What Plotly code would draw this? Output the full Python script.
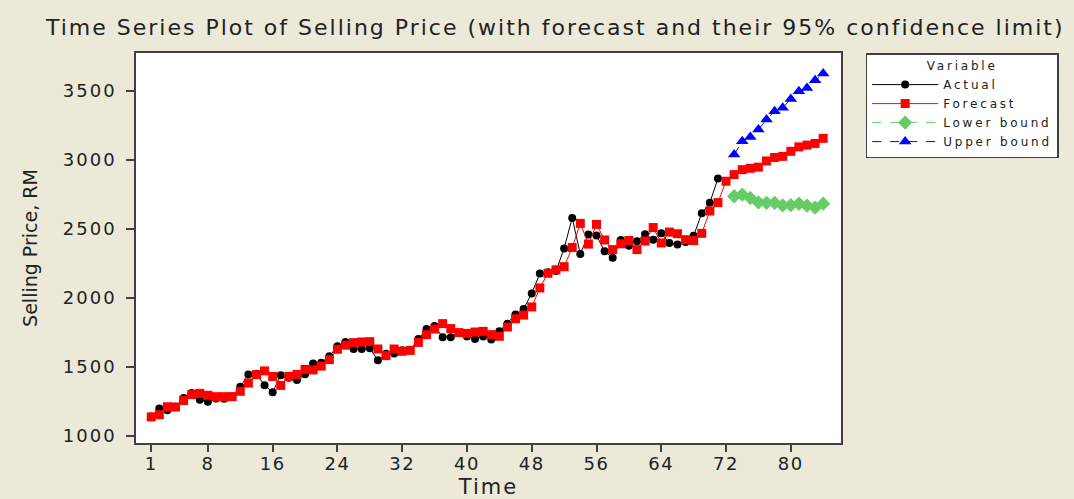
import plotly.graph_objects as go

# ---- data ----
time_actual = list(range(1, 72))
actual = [1140, 1197, 1185, 1210, 1273, 1310, 1261, 1247, 1270, 1268,
          1285, 1355, 1443, 1450, 1366, 1316, 1438, 1420, 1404, 1445,
          1523, 1530, 1576, 1648, 1680, 1629, 1629, 1634, 1547, 1595,
          1597, 1620, 1620, 1702, 1774, 1795, 1715, 1715, 1745, 1720,
          1702, 1720, 1697, 1757, 1812, 1879, 1919, 2032, 2176, 2185,
          2195, 2358, 2580, 2318, 2459, 2452, 2338, 2290, 2420, 2378,
          2410, 2462, 2422, 2468, 2398, 2386, 2405, 2451, 2613, 2690,
          2866]

time_forecast = list(range(1, 85))
forecast = [1136, 1152, 1210, 1208, 1255, 1298, 1307, 1293, 1283, 1283,
            1283, 1322, 1382, 1443, 1470, 1430, 1365, 1430, 1445, 1481,
            1477, 1505, 1552, 1627, 1657, 1675, 1680, 1682, 1629, 1581,
            1629, 1612, 1619, 1677, 1733, 1774, 1813, 1777, 1748, 1742,
            1752, 1757, 1733, 1721, 1788, 1848, 1875, 1934, 2072, 2178,
            2203, 2226, 2365, 2540, 2390, 2533, 2420, 2350, 2392, 2416,
            2350, 2412, 2510, 2398, 2477, 2465, 2422, 2415, 2468, 2630,
            2691, 2846, 2894, 2930, 2940, 2948, 2993, 3018, 3026, 3063,
            3095, 3108, 3120, 3157]

time_bounds = list(range(73, 85))
lower = [2737, 2749, 2725, 2692, 2689, 2689, 2670, 2672, 2683, 2669, 2655, 2683]
upper = [3039, 3136, 3167, 3221, 3293, 3353, 3378, 3443, 3499, 3523, 3578, 3627]

x_ticks = [1, 8, 16, 24, 32, 40, 48, 56, 64, 72, 80]
y_ticks = [1000, 1500, 2000, 2500, 3000, 3500]

FONT = "DejaVu Sans"
AXIS = "#404040"
TXT = "#222222"


def wide(s, sp):
    return '<span style="letter-spacing:%spx">%s</span>' % (sp, s)


fig = go.Figure()
fig.add_trace(go.Scatter(x=time_actual, y=actual, name=wide("Actual", 2.8), mode="lines+markers",
                         line=dict(color="black", width=1),
                         marker=dict(symbol="circle", size=8, color="black")))
fig.add_trace(go.Scatter(x=time_forecast, y=forecast, name=wide("Forecast", 2.8), mode="lines+markers",
                         line=dict(color="#FF0000", width=1),
                         marker=dict(symbol="square", size=9, color="#FF0000")))
fig.add_trace(go.Scatter(x=time_bounds, y=lower, name=wide("Lower bound", 2.8), mode="lines+markers",
                         line=dict(color="#66CC66", width=1, dash="dash"),
                         marker=dict(symbol="diamond", size=11, color="#66CC66")))
fig.add_trace(go.Scatter(x=time_bounds, y=upper, name=wide("Upper bound", 2.8), mode="lines+markers",
                         line=dict(color="#0000FF", width=1, dash="dash"),
                         marker=dict(symbol="triangle-up", size=11, color="#0000FF")))

fig.update_layout(
    width=1074, height=499,
    margin=dict(l=136, r=233, t=53, b=56),
    paper_bgcolor="#ECE9D8", plot_bgcolor="white",
    font=dict(family=FONT, color=TXT),
    title=dict(text=wide("Time Series Plot of Selling Price (with forecast and their 95% confidence limit)", 2),
               x=0.517, xref="container", xanchor="center",
               y=1 - 27 / 499, yref="container", yanchor="middle",
               font=dict(size=22, family=FONT, color=TXT)),
    xaxis=dict(range=[-0.88, 86.2], tickvals=x_ticks, automargin=False,
               ticktext=[wide(str(v), 1.5) for v in x_ticks],
               ticks="outside", ticklen=7, ticklabelstandoff=-3,
               tickcolor=AXIS, tickwidth=1.5, showline=True, mirror=True, linecolor=AXIS,
               linewidth=1.5, showgrid=False, zeroline=False,
               tickfont=dict(size=18, family=FONT, color=TXT),
               title=dict(text=wide("Time", 2), font=dict(size=21, family=FONT, color=TXT), standoff=11)),
    yaxis=dict(range=[947, 3776], tickvals=y_ticks, automargin=False,
               ticktext=[wide(str(v), 2) for v in y_ticks],
               ticks="outside", ticklen=8,
               tickcolor=AXIS, tickwidth=1.5, showline=True, mirror=True, linecolor=AXIS,
               linewidth=1.5, showgrid=False, zeroline=False, ticklabelstandoff=6,
               tickfont=dict(size=18, family=FONT, color=TXT),
               title=dict(text="Selling Price, RM", font=dict(size=19, family=FONT, color=TXT), standoff=20)),
    legend=dict(x=1.035, y=1, xanchor="left", yanchor="top", bgcolor="white",
                bordercolor=AXIS, borderwidth=1.5, font=dict(size=12, family=FONT, color=TXT),
                itemwidth=66, tracegroupgap=0,
                title=dict(text=wide("Variable", 2.8), side="top center", font=dict(size=12, family=FONT, color=TXT))),
    showlegend=True,
)

fig.write_html("out.html")
